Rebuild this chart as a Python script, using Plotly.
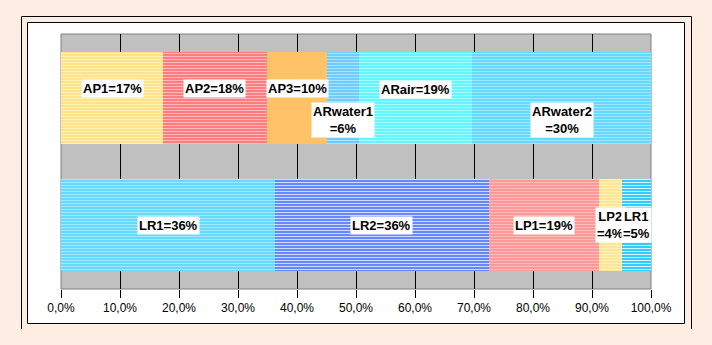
import plotly.graph_objects as go

# ---- data ----
rows = ["top", "bottom"]

top_names = ["AP1", "AP2", "AP3", "ARwater1", "ARair", "ARwater2"]
top_values = [17.3, 17.6, 10.2, 5.4, 19.2, 30.3]
top_texts = ["AP1=17%", "AP2=18%", "AP3=10%", "ARwater1<br>=6%", "ARair=19%", "ARwater2<br>=30%"]

bottom_names = ["LR1", "LR2", "LP1", "LP2", "LR1b"]
bottom_values = [36.3, 36.2, 18.7, 3.9, 4.9]
bottom_texts = ["LR1=36%", "LR2=36%", "LP1=19%", "LP2<br>=4%", "LR1<br>=5%"]

tick_vals = [0, 0.1, 0.2, 0.3, 0.4, 0.5, 0.6, 0.7, 0.8, 0.9, 1.0]
tick_text = ["0,0%", "10,0%", "20,0%", "30,0%", "40,0%", "50,0%",
             "60,0%", "70,0%", "80,0%", "90,0%", "100,0%"]

# ---- styles ----
top_base = ["#FFE38C", "#FF7C80", "#FFC266", "#70CCFF", "#66F5FF", "#66D9FF"]
top_light = ["#FFF0B4", "#FFB8BA", None, "#A6E4FF", "#A4FFFF", "#9EE8FF"]
bottom_base = ["#66D9FF", "#6688FF", "#FF9999", "#FFE699", "#33CCFF"]
bottom_light = ["#A0E9FF", "#D0DCFF", "#FFBBBB", "#FFF0B8", "#D4F4FF"]

# label vertical shifts (px) — single-line labels in the top row sit above centre
top_shift = [9, 9, 9, -22, 8, -22]
bottom_shift = [0, 0, 0, 0, 0]

FONT = "Arial, Liberation Sans, sans-serif"

fig = go.Figure()
annotations = []


def add_row(names, values, texts, bases, lights, shifts, row):
    start = 0.0
    for n, v, t, b, l, s in zip(names, values, texts, bases, lights, shifts):
        frac = v / 100.0
        marker = dict(color=b, line=dict(width=0))
        if l is not None:
            marker["pattern"] = dict(shape="-", fgcolor=l, bgcolor=b,
                                     size=3, solidity=0.34, fillmode="replace")
        fig.add_trace(go.Bar(x=[frac], y=[row], orientation="h", name=n,
                             marker=marker, showlegend=False, hoverinfo="skip"))
        annotations.append(dict(x=start + frac / 2, y=row, xref="x", yref="y",
                                text="<b>" + t.replace("<br>", "</b><br><b>") + "</b>",
                                showarrow=False, yshift=s,
                                bgcolor="white", borderpad=1,
                                font=dict(family=FONT, size=13, color="black")))
        start += frac


add_row(top_names, top_values, top_texts, top_base, top_light, top_shift, rows[0])
add_row(bottom_names, bottom_values, bottom_texts, bottom_base, bottom_light,
        bottom_shift, rows[1])

# plot area in pixels: x 61..651, y 34..289
L, R, T, B = 61, 651, 34, 289
W, H = R - L, B - T


def px(xp):
    return (xp - L) / W


def py(yp):
    return (B - yp) / H


shapes = [
    # inner white framed box
    dict(type="rect", xref="paper", yref="paper",
         x0=px(27.5), x1=px(684.5), y0=py(22.5), y1=py(323.5),
         fillcolor="white", line=dict(color="black", width=1), layer="below"),
    # outer frame (top, left, right)
    dict(type="path", xref="paper", yref="paper",
         path=f"M{px(21.5)},{py(329)} L{px(21.5)},{py(16.5)} L{px(691.5)},{py(16.5)} L{px(691.5)},{py(329)}",
         line=dict(color="black", width=1), layer="below"),
    # grey plot area
    dict(type="rect", xref="paper", yref="paper", x0=0, x1=1, y0=0, y1=1,
         fillcolor="#C0C0C0", line=dict(color="#808080", width=1), layer="below"),
]

fig.update_layout(
    width=712, height=345,
    margin=dict(l=L, r=712 - R, t=T, b=345 - B),
    paper_bgcolor="#FDEDE3",
    plot_bgcolor="#C0C0C0",
    barmode="stack",
    bargap=0.28,
    shapes=shapes,
    annotations=annotations,
    font=dict(family=FONT, size=12, color="black"),
    xaxis=dict(range=[0, 1], tickvals=tick_vals, ticktext=tick_text,
               showgrid=True, gridcolor="black", gridwidth=1,
               zeroline=False, showline=False,
               ticks="outside", ticklen=8, tickcolor="black",
               tickfont=dict(family=FONT, size=12, color="black"),
               layer="below traces", fixedrange=True),
    yaxis=dict(categoryorder="array", categoryarray=rows, autorange="reversed",
               showticklabels=False, showgrid=False, zeroline=False,
               showline=False, ticks="", layer="below traces", fixedrange=True),
)

fig.write_html("out.html")
